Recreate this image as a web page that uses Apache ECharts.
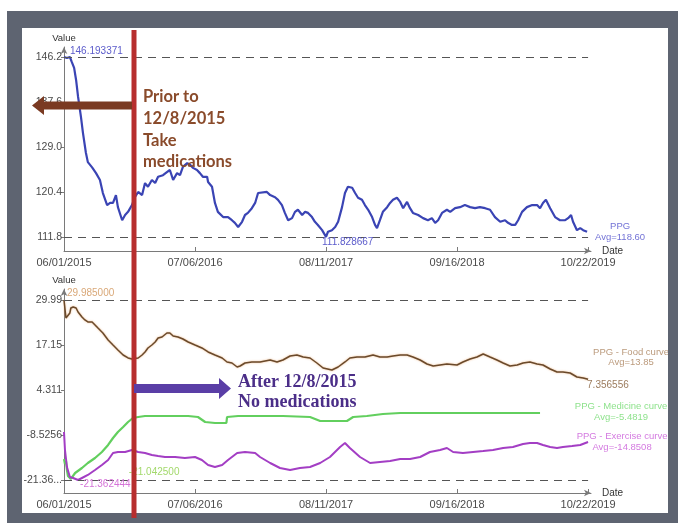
<!DOCTYPE html>
<html>
<head>
<meta charset="utf-8">
<script src="https://cdn.jsdelivr.net/npm/echarts@6/dist/echarts.min.js"></script>
<style>html,body{margin:0;padding:0;background:#fff;}#c{width:678px;height:523px;}</style>
</head>
<body>
<div id="c"></div>
<script>
// ---------- DATA ----------
const startDate = '06/01/2015';
const xTickLabels = ['06/01/2015', '07/06/2016', '08/11/2017', '09/16/2018', '10/22/2019'];

// Top chart (PPG), x = days since 06/01/2015
const ppgDays = [0,9,18,24,31,37,43,52,58,67, 73,86,98,110,119,132,141,150,159,165,
  178,187,196,208,217,227,239,248,257,269, 279,288,303,315,324,334,346,355,364,377,
  386,395,407,416,425,438,441,453,462,471, 487,502,514,523,533,545,554,563,575,585,
  594,600,621,631,646,655,667,676,686,698, 707,716,729,738,747,759,768,777,790,802,
  808,820,830,839,851,860,869,882,891,900, 912,921,931,943,952,958,967,976,989,998,
  1007,1019,1029,1038,1050,1059,1068,1084,1099,1114, 1126,1136,1145,1157,1172,1182,1197,1212,1227,1243,
  1258,1273,1289,1304,1319,1335,1350,1359,1371,1381, 1390,1402,1417,1433,1448,1457,1466,1475,1488,1503,
  1518,1534,1543,1552,1558,1570,1580,1589,1601];
const ppgValues = [146.19,146.0,146.19,145.2,144.1,141.8,138.6,134.7,131.7,127.9, 126.1,125.1,124.0,122.7,120.2,117.9,118.3,118.3,119.8,117.5,
  115.0,116.0,116.6,117.9,119.4,120.4,119.8,122.1,121.4,122.7, 122.1,123.3,123.6,124.2,124.6,122.7,124.0,123.6,125.2,125.9,
  125.6,125.0,124.6,124.0,123.3,123.3,122.3,121.4,118.3,116.6, 115.6,115.6,115.0,114.5,113.7,114.7,116.0,116.4,117.3,118.3,
  120.2,120.2,120.4,119.8,119.4,118.9,117.9,116.4,115.0,115.4, 116.6,117.0,116.0,116.6,116.4,115.6,114.7,114.1,113.1,111.828667,
  112.8,113.1,113.7,114.7,117.5,120.2,121.4,121.2,120.2,119.3, 118.9,117.9,117.0,115.6,114.1,113.5,115.0,116.6,117.5,118.3,
  118.9,119.3,118.5,117.3,118.5,117.3,116.4,116.0,115.4,115.0, 115.4,114.5,115.0,116.4,117.0,116.6,117.3,117.5,117.9,117.5,
  117.3,117.5,117.3,117.0,115.6,114.7,115.0,114.5,114.1,114.1, 115.0,116.6,117.5,117.9,117.9,117.3,118.3,118.9,117.3,115.6,
  115.0,115.0,115.4,116.0,114.7,113.1,113.5,113.1,112.8];
const ppgTickValues = [111.8, 120.4, 129.0, 137.6, 146.2];
const ppgTickLabels = ['111.8', '120.4', '129.0', '137.6', '146.2'];

// Bottom chart
const foodDays = [0,6,12,18,21,28,37,43,55,64, 73,86,95,104,119,135,150,165,181,196,
  208,227,239,248,257,269,279,288,300,315, 324,334,349,364,380,401,422,441,462,484,
  499,514,530,539,554,575,600,631,652,670, 692,713,732,753,774,793,820,839,860,875,
  897,921,946,967,989,1007,1029,1050,1068,1090, 1111,1130,1151,1172,1203,1221,1243,1264,1283,1304,
  1325,1344,1365,1387,1405,1426,1448,1466,1488,1509, 1527,1549,1570,1589,1604];
const foodValues = [29.985,24.86,24.29,26.29,27.71,28.0,27.71,26.57,25.14,24.29, 23.72,23.72,22.86,22.0,20.58,18.58,17.15,15.73,14.30,13.45,
  13.16,13.45,14.30,15.16,16.30,17.15,18.01,19.15,19.44,20.58, 20.58,19.72,19.44,18.87,18.01,17.15,16.30,15.16,14.30,13.45,
  12.31,12.02,10.88,11.16,12.02,12.31,12.31,12.88,12.31,12.88, 14.02,14.30,13.73,13.45,12.02,10.59,10.02,10.88,12.31,13.45,
  13.73,13.73,14.30,13.73,13.73,14.02,14.30,14.30,13.73,12.88, 11.73,11.16,11.45,11.73,11.45,12.31,13.16,13.73,14.59,13.73,
  12.88,12.02,11.16,11.45,12.02,12.31,11.73,11.45,10.31,9.45, 9.45,9.17,8.03,7.74,7.356556];

const medDays = [0,3,6,9,12,21,34,55,73,95, 116,135,150,165,181,196,211,227,248,279,
  331,380,410,432,462,497,499,533,585,670, 753,784,823,866,885,927,976,1029,1182,1300, 1457];
const medValues = [-15.4,-16.8,-15.9,-18.5,-20.2,-21.0425,-19.36,-17.94,-16.51,-15.08, -13.37,-11.37,-9.38,-7.67,-6.24,-4.81,-3.67,-3.39,-3.10,-3.10,
  -3.10,-3.10,-3.39,-4.81,-5.10,-5.10,-3.39,-3.10,-3.10,-3.10, -3.39,-4.53,-4.53,-4.53,-3.39,-3.10,-2.53,-2.24,-2.24,-2.24, -2.24];

const exDays = [0,3,9,18,28,43,55,73,95,116, 135,150,165,187,208,227,248,269,288,309,
  340,370,401,422,441,462,484,502,530,554, 585,600,631,661,692,722,753,784,814,845,
  860,875,906,937,967,998,1029,1059,1090,1120, 1151,1172,1191,1221,1252,1283,1313,1344,1374,1405,
  1426,1448,1466,1488,1509,1527,1555,1580,1604];
const exValues = [-7.67,-12.80,-17.65,-20.50,-20.79,-21.362444,-20.79,-19.93,-18.51,-17.08, -15.65,-13.66,-13.37,-13.37,-12.80,-13.37,-13.66,-14.23,-14.51,-14.80,
  -14.80,-15.08,-14.80,-15.65,-17.08,-17.65,-17.08,-15.65,-13.66,-13.37, -13.66,-14.80,-16.51,-17.94,-18.51,-17.94,-17.65,-16.51,-14.80,-11.94,
  -10.80,-12.23,-14.80,-16.51,-16.22,-15.94,-15.37,-15.37,-14.80,-13.37, -12.80,-12.23,-13.37,-13.66,-13.37,-13.09,-12.80,-12.23,-11.94,-11.09,
  -10.80,-10.80,-11.37,-11.94,-12.23,-11.94,-11.66,-11.37,-10.52];
const lowTickValues = [-21.36, -8.5256, 4.311, 17.15, 29.99];
const lowTickLabels = ['-21.36...', '-8.5256', '4.311', '17.15', '29.99'];

// ---------- HELPERS ----------
function parseMDY(s) { const p = s.split('/').map(Number); return Date.UTC(p[2], p[0] - 1, p[1]); }
const t0 = parseMDY(startDate);
const xTickDays = xTickLabels.map(s => Math.round((parseMDY(s) - t0) / 86400000));
const dEnd = xTickDays[xTickDays.length - 1];
const xMax = 1613;
function fmtDay(v) { const i = xTickDays.indexOf(Math.round(v)); return i >= 0 ? xTickLabels[i] : ''; }
function zip(days, vals) { return days.map((d, i) => [d, vals[i]]); }
function argMin(a) { let k = 0; a.forEach((v, i) => { if (v < a[k]) k = i; }); return k; }

const FONT = 'Liberation Sans';
const axisGray = '#7a7a7a';
const dashStyle = { color: '#555', width: 1.2, type: [8, 6] };

function xAxisCfg(gi) {
  return {
    type: 'value', gridIndex: gi, min: 0, max: xMax,
    name: 'Date', nameLocation: 'end', nameGap: 11,
    nameTextStyle: { fontSize: 10, color: '#333', fontFamily: FONT },
    axisLine: { onZero: false, lineStyle: { color: axisGray, width: 1 }, symbol: ['none', 'arrow'], symbolSize: [5, 7] },
    axisTick: { show: true, inside: true, length: 4, customValues: xTickDays, lineStyle: { color: axisGray } },
    axisLabel: { customValues: xTickDays, formatter: fmtDay, fontSize: 11, color: '#4a4a4a', fontFamily: FONT, margin: 6 },
    splitLine: { show: false }
  };
}
function yAxisCfg(gi, min, max, vals, labels) {
  return {
    type: 'value', gridIndex: gi, min: min, max: max,
    name: 'Value', nameLocation: 'end', nameGap: 4,
    nameTextStyle: { fontSize: 9.5, color: '#333', fontFamily: FONT, align: 'center' },
    axisLine: { show: true, onZero: false, lineStyle: { color: axisGray, width: 1 }, symbol: ['none', 'arrow'], symbolSize: [5, 7] },
    axisTick: { show: true, length: 3, customValues: vals, lineStyle: { color: axisGray } },
    axisLabel: { customValues: vals, formatter: v => { let k = 0; vals.forEach((x, i) => { if (Math.abs(x - v) < Math.abs(vals[k] - v)) k = i; }); return labels[k]; },
      fontSize: 10.5, color: '#4a4a4a', fontFamily: FONT, margin: 2 },
    splitLine: { show: false }
  };
}
function lbl(coord, text, color, offset, align, size) {
  return { coord: coord, value: 0, label: { show: true, position: 'inside', formatter: text, color: color,
    offset: offset, align: align, verticalAlign: 'middle', fontSize: size || 10, lineHeight: 10.5, fontFamily: FONT } };
}
function mp(data) { return { symbol: 'circle', symbolSize: 0, silent: true, animation: false, data: data }; }

const ppgData = zip(ppgDays, ppgValues);
const foodData = zip(foodDays, foodValues);
const medData = zip(medDays, medValues);
const exData = zip(exDays, exValues);
const ppgMinI = argMin(ppgValues), medMinI = argMin(medValues), exMinI = argMin(exValues);

const option = {
  backgroundColor: '#ffffff',
  animation: false,
  grid: [
    { left: 64, right: 87, top: 47, bottom: 272 },
    { left: 64, right: 87, top: 289, bottom: 30 }
  ],
  xAxis: [xAxisCfg(0), xAxisCfg(1)],
  yAxis: [
    yAxisCfg(0, 109.12, 148.1, ppgTickValues, ppgTickLabels),
    yAxisCfg(1, -25.07, 33.13, lowTickValues, lowTickLabels)
  ],
  series: [
    {
      name: 'PPG', type: 'line', xAxisIndex: 0, yAxisIndex: 0, data: ppgData, symbol: 'none',
      lineStyle: { color: '#3a44b4', width: 2.2 }, z: 3,
      markLine: { silent: true, symbol: 'none', animation: false, label: { show: false }, lineStyle: dashStyle,
        data: [
          [{ coord: [0, ppgTickValues[4]] }, { coord: [dEnd, ppgTickValues[4]] }],
          [{ coord: [0, ppgTickValues[0]] }, { coord: [dEnd, ppgTickValues[0]] }]
        ] },
      markPoint: mp([
        lbl(ppgData[0], '146.193371', '#5b5bcb', [6, -6], 'left'),
        lbl(ppgData[ppgMinI], '111.828667', '#5b5bcb', [-4, 5], 'left'),
        lbl(ppgData[ppgData.length - 1], 'PPG\nAvg=118.60', '#7373d6', [33, 0], 'center', 9.5)
      ])
    },
    {
      name: 'PPG - Food curve', type: 'line', xAxisIndex: 1, yAxisIndex: 1, data: foodData, symbol: 'none',
      lineStyle: { color: '#6a4a2c', width: 1.5, shadowColor: 'rgba(230,150,80,0.7)', shadowBlur: 2 }, z: 3,
      markLine: { silent: true, symbol: 'none', animation: false, label: { show: false }, lineStyle: dashStyle,
        data: [
          [{ coord: [0, lowTickValues[4]] }, { coord: [dEnd, lowTickValues[4]] }],
          [{ coord: [0, lowTickValues[0]] }, { coord: [dEnd, lowTickValues[0]] }]
        ] },
      markPoint: mp([
        lbl(foodData[0], '29.985000', '#d9a878', [3, -7], 'left'),
        lbl(foodData[foodData.length - 1], '7.356556', '#9c7c5e', [-1, 6], 'left'),
        lbl(foodData[foodData.length - 1], 'PPG - Food curve\nAvg=13.85', '#bb9a7c', [43, -22], 'center', 9.5)
      ])
    },
    {
      name: 'PPG - Medicine curve', type: 'line', xAxisIndex: 1, yAxisIndex: 1, data: medData, symbol: 'none',
      lineStyle: { color: '#62cf5e', width: 2.2 }, z: 3,
      markPoint: mp([
        lbl(medData[medMinI], '-21.042500', '#a3d96c', [58, -7], 'left'),
        lbl(medData[medData.length - 1], 'PPG - Medicine curve\nAvg=-5.4819', '#8ee28c', [81, -1], 'center', 9.5)
      ])
    },
    {
      name: 'PPG - Exercise curve', type: 'line', xAxisIndex: 1, yAxisIndex: 1, data: exData, symbol: 'none',
      lineStyle: { color: '#a33ec4', width: 2 }, z: 3,
      markPoint: mp([
        lbl(exData[exMinI], '-21.362444', '#d574d8', [2, 4], 'left'),
        lbl(exData[exData.length - 1], 'PPG - Exercise curve\nAvg=-14.8508', '#d47ae0', [34, 0], 'center', 9.5)
      ])
    }
  ],
  graphic: [
    { type: 'rect', z: 100, shape: { x: 7, y: 11, width: 671, height: 17 }, style: { fill: '#5e6471' }, silent: true },
    { type: 'rect', z: 100, shape: { x: 7, y: 11, width: 15, height: 512 }, style: { fill: '#5e6471' }, silent: true },
    { type: 'rect', z: 100, shape: { x: 668, y: 11, width: 10, height: 512 }, style: { fill: '#5e6471' }, silent: true },
    { type: 'rect', z: 100, shape: { x: 7, y: 513, width: 671, height: 10 }, style: { fill: '#5e6471' }, silent: true },
    { type: 'rect', z: 101, shape: { x: 131.5, y: 30, width: 5, height: 488 }, style: { fill: '#b72e2e' }, silent: true },
    { type: 'polygon', z: 102, silent: true,
      shape: { points: [[32, 105.5], [44, 96], [44, 101.5], [132, 101.5], [132, 109.5], [44, 109.5], [44, 115]] },
      style: { fill: '#7a3a22' } },
    { type: 'polygon', z: 102, silent: true,
      shape: { points: [[134, 384], [219, 384], [219, 378], [231, 388.5], [219, 399], [219, 393], [134, 393]] },
      style: { fill: '#5a3ea6' } },
    { type: 'text', z: 103, silent: true, x: 143, y: 97, style: { text: 'Prior to', fill: '#8a4b2b', font: 'bold 16.5px Lato', verticalAlign: 'middle' } },
    { type: 'text', z: 103, silent: true, x: 143, y: 119, style: { text: '12/8/2015', fill: '#8a4b2b', font: 'bold 16.5px Lato', verticalAlign: 'middle' } },
    { type: 'text', z: 103, silent: true, x: 143, y: 140.5, style: { text: 'Take', fill: '#8a4b2b', font: 'bold 16.5px Lato', verticalAlign: 'middle' } },
    { type: 'text', z: 103, silent: true, x: 143, y: 162, style: { text: 'medications', fill: '#8a4b2b', font: 'bold 16.5px Lato', verticalAlign: 'middle' } },
    { type: 'text', z: 103, silent: true, x: 238, y: 382.5, style: { text: 'After 12/8/2015', fill: '#4b2e88', font: 'bold 18px "Liberation Serif"', verticalAlign: 'middle' } },
    { type: 'text', z: 103, silent: true, x: 238, y: 402, style: { text: 'No medications', fill: '#4b2e88', font: 'bold 18px "Liberation Serif"', verticalAlign: 'middle' } }
  ]
};

const chart = echarts.init(document.getElementById('c'), null, { renderer: 'canvas' });
chart.setOption(option);
</script>
</body>
</html>
